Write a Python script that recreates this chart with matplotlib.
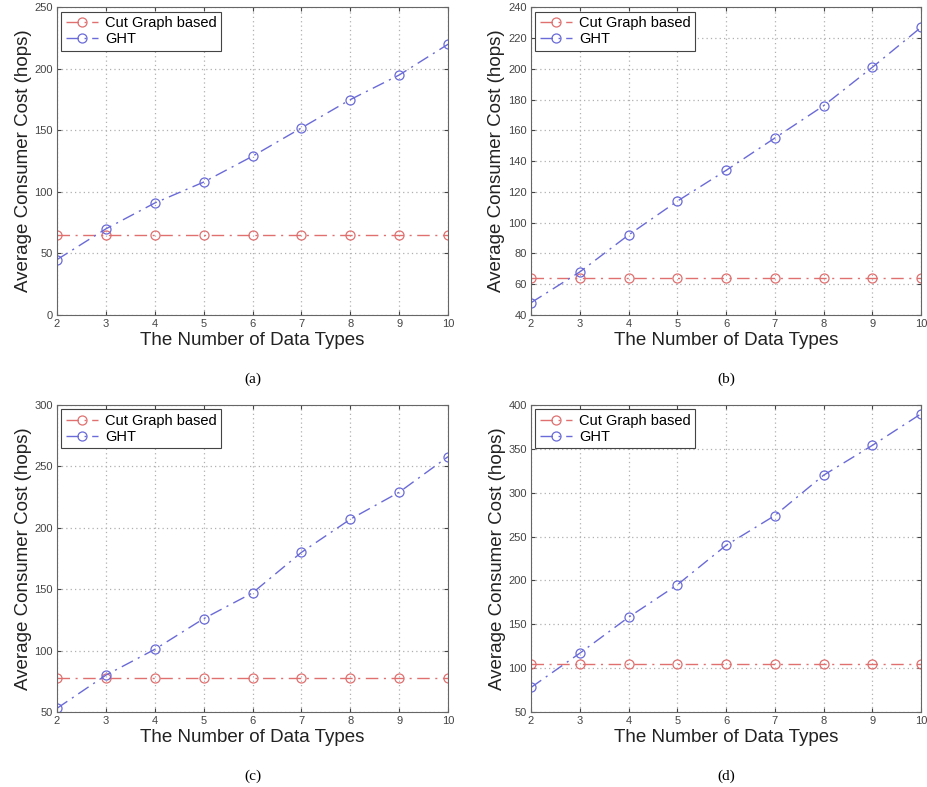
import matplotlib
matplotlib.use("Agg")
import matplotlib.pyplot as plt

plt.rcParams['font.family'] = ['Liberation Sans', 'DejaVu Sans']

data_types = [2, 3, 4, 5, 6, 7, 8, 9, 10]

# panel values
cut_a = [65] * 9
ght_a = [45, 70, 91, 108, 129, 152, 175, 195, 220]
cut_b = [64] * 9
ght_b = [48, 68, 92, 114, 134, 155, 176, 201, 227]
cut_c = [78] * 9
ght_c = [53, 80, 101, 126, 147, 180, 207, 229, 258]
cut_d = [105] * 9
ght_d = [78, 117, 158, 195, 240, 274, 320, 354, 390]

ylims = [(0, 250), (40, 240), (50, 300), (50, 400)]
ysteps = [50, 20, 50, 50]
tags = ['(a)', '(b)', '(c)', '(d)']

red = '#e07070'
blue = '#6a6ad8'

fig = plt.figure(figsize=(9.28, 7.87), dpi=100)

boxes = [
    [0.0614, 0.5997, 0.4214, 0.391],
    [0.5722, 0.5997, 0.4203, 0.391],
    [0.0614, 0.0953, 0.4214, 0.390],
    [0.5722, 0.0953, 0.4203, 0.390],
]
panels = [(cut_a, ght_a), (cut_b, ght_b), (cut_c, ght_c), (cut_d, ght_d)]

for k in range(4):
    ax = fig.add_axes(boxes[k])
    cut, ght = panels[k]
    ax.plot(data_types, cut, color=red, linestyle=(0, (9, 4, 1.5, 4)), lw=1.0,
            marker='o', mfc='none', mec=red, ms=6.5, mew=0.9, label='Cut Graph based')
    ax.plot(data_types, ght, color=blue, linestyle=(0, (9, 4, 1.5, 4)), lw=1.0,
            marker='o', mfc='none', mec=blue, ms=6.5, mew=0.9, label='GHT')
    lo, hi = ylims[k]
    ax.set_xlim(2, 10)
    ax.set_ylim(lo, hi)
    ax.set_xticks(data_types)
    ax.set_yticks(range(lo, hi + 1, ysteps[k]))
    ax.grid(True, linestyle=(0, (1, 2.5)), color='#b0b0b0', lw=0.9)
    ax.tick_params(direction='in', top=True, right=True, labelsize=8, length=3,
                   pad=3, colors='#444444')
    for s in ax.spines.values():
        s.set_color('#666666')
        s.set_linewidth(0.8)
    ax.set_xlabel('The Number of Data Types', fontsize=13.5, labelpad=2, color='#222222')
    ax.set_ylabel('Average Consumer Cost (hops)', fontsize=13.5, labelpad=2, color='#222222')
    leg = ax.legend(loc='upper left', fontsize=10.5, handlelength=2.2, borderpad=0.3,
                    labelspacing=0.15, handletextpad=0.5, fancybox=False,
                    framealpha=1, borderaxespad=0.3)
    leg.get_frame().set_edgecolor('#444444')
    leg.get_frame().set_linewidth(0.8)
    ax.text(0.5, -0.21, tags[k], transform=ax.transAxes, ha='center', va='center',
            fontsize=11, family=['Liberation Serif', 'DejaVu Serif'])

fig.savefig('out.png', dpi=100)
